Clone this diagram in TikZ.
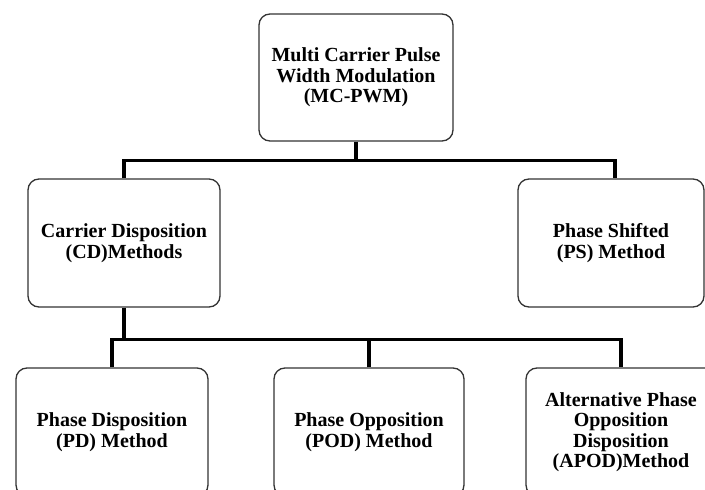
\documentclass[tikz,border=0pt]{standalone}
\usepackage{fontspec}
\setmainfont{Liberation Serif}
\begin{document}
\begin{tikzpicture}[x=1pt,y=-1pt,
  box/.style={draw=black!80, line width=1.3pt, rounded corners=11pt, align=center,
    inner sep=0pt, font=\bfseries\fontsize{20}{20.5}\selectfont},
  conn/.style={draw=black, line width=3.3pt}]
\useasboundingbox (0,0) rectangle (705,490);
\clip (0,0) rectangle (705,490);
\fill[white] (0,0) rectangle (705,490);
\node[box, minimum width=194pt, minimum height=127pt] (top) at (356,77.5)
  {Multi Carrier Pulse\\Width Modulation\\(MC-PWM)};
\node[box, minimum width=192pt, minimum height=128pt] (cd) at (124,243)
  {Carrier Disposition\\(CD)Methods};
\node[box, minimum width=186pt, minimum height=128pt] (ps) at (611,243)
  {Phase Shifted\\(PS) Method};
\node[box, minimum width=192pt, minimum height=128pt] (pd) at (112,432)
  {Phase Disposition\\(PD) Method};
\node[box, minimum width=190pt, minimum height=128pt] (pod) at (369,432)
  {Phase Opposition\\(POD) Method};
\node[box, minimum width=190pt, minimum height=128pt] (apod) at (621,432)
  {Alternative Phase\\Opposition\\Disposition\\(APOD)Method};
\draw[conn] (top.south) -- ++(0,19) coordinate (j1);
\draw[conn] (cd.north) |- (j1) -| ([xshift=4pt]ps.north);
\draw[conn] (cd.south) -- ++(0,32) coordinate (j2);
\draw[conn] (pd.north) |- (j2) -| (apod.north);
\draw[conn] (pod.north) -- (pod.north |- j2);
\end{tikzpicture}
\end{document}
